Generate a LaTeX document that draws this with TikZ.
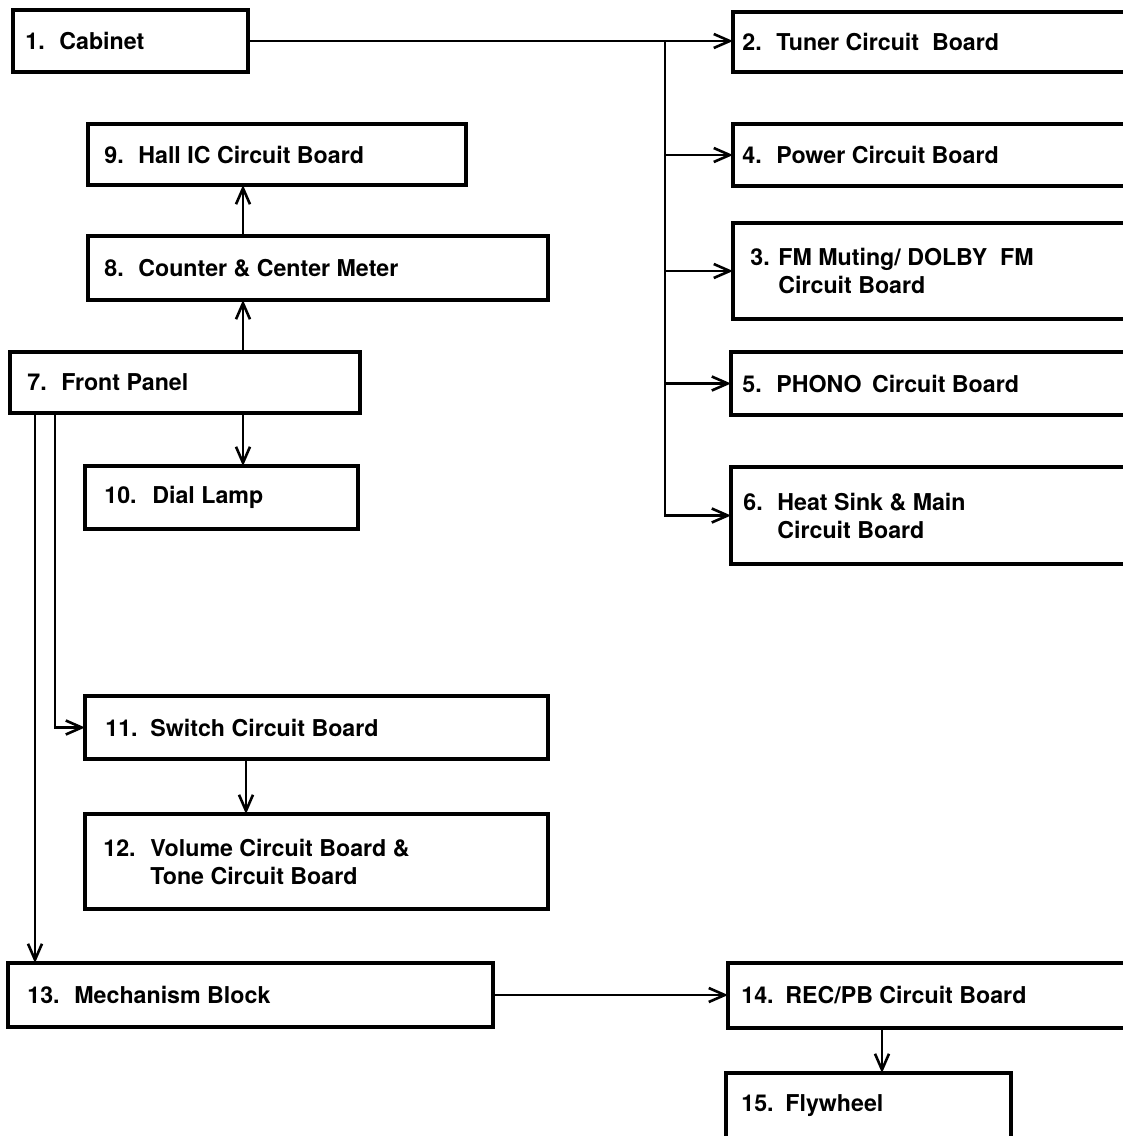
\documentclass[tikz,border=0pt]{standalone}
\usepackage{fontspec}
\setmainfont{TeX Gyre Heros}
\usetikzlibrary{arrows.meta,fit}

\newcommand{\bno}[2][17pt]{\makebox[#1][l]{#2}}

\tikzset{
  board/.style={draw, line width=1.8pt, inner sep=0pt, outer sep=0pt},
  lbl/.style={anchor=west, inner sep=0pt, align=left, xshift=#1,
    font=\bfseries\fontsize{11.6}{14}\selectfont},
  conn/.style={line width=1.2pt, -{Straight Barb[length=8pt,width=7pt,line width=1.3pt]}}
}

\begin{document}
\begin{tikzpicture}[x=0.5pt,y=0.5pt,yscale=-1,xscale=1]
    \useasboundingbox (0,0) rectangle (1123,1136);
    \clip (0,0) rectangle (1123,1136);

    %Box: Cabinet
    \node[board, fit={(13,10) (248,72)}, label={[lbl=6pt]west:{\bno{1.}Cabinet}}] (cab) {};
    %Box: right column
    \node[board, fit={(733,12) (1135,72)}, label={[lbl=4.5pt]west:{\bno{2.}Tuner Circuit\ \ Board}}] (b2) {};
    \node[board, fit={(733,124) (1135,186)}, label={[lbl=4.5pt]west:{\bno{4.}Power Circuit Board}}] (b4) {};
    \node[board, fit={(733,223) (1135,319)}, label={[lbl=8.5pt]west:{\bno[14pt]{3.}FM Muting/ DOLBY\ \ FM\\\bno[14pt]{}Circuit Board}}] (b3) {};
    \node[board, fit={(731,352) (1135,415)}, label={[lbl=5.5pt]west:{\bno{5.}PHONO\ \,Circuit Board}}] (b5) {};
    \node[board, fit={(731,467) (1135,564)}, label={[lbl=6pt]west:{\bno{6.}Heat Sink \& Main\\\bno{}Circuit Board}}] (b6) {};

    %Box: left column
    \node[board, fit={(88,124) (466,185)}, label={[lbl=8pt]west:{\bno{9.}Hall IC Circuit Board}}] (b9) {};
    \node[board, fit={(88,236) (548,300)}, label={[lbl=8pt]west:{\bno{8.}Counter \& Center Meter}}] (b8) {};
    \node[board, fit={(10,352) (360,413)}, label={[lbl=8.5pt]west:{\bno{7.}Front Panel}}] (b7) {};
    \node[board, fit={(85,466) (358,529)}, label={[lbl=9.5pt]west:{\bno[24pt]{10.}Dial Lamp}}] (b10) {};
    \node[board, fit={(85,696) (548,759)}, label={[lbl=10pt]west:{\bno[22.5pt]{11.}Switch Circuit Board}}] (b11) {};
    \node[board, fit={(85,814) (548,909)}, label={[lbl=9pt]west:{\bno[23.5pt]{12.}Volume Circuit Board \&\\\bno[23.5pt]{}Tone Circuit Board}}] (b12) {};

    %Box: bottom row
    \node[board, fit={(8,963) (493,1027)}, label={[lbl=9.5pt]west:{\bno[23.5pt]{13.}Mechanism Block}}] (b13) {};
    \node[board, fit={(728,963) (1135,1028)}, label={[lbl=6.5pt]west:{\bno[22pt]{14.}REC/PB Circuit Board}}] (b14) {};
    \node[board, fit={(726,1073) (1011,1139)}, label={[lbl=7.5pt]west:{\bno[22pt]{15.}Flywheel}}] (b15) {};

    % Bus lines
    \coordinate (bus) at (665,41);
    \coordinate (sp) at (243,0);
    \coordinate (dm) at (35,0);
    \coordinate (ds) at (55,0);
    \coordinate (dv) at (246,0);
    \coordinate (df) at (882,0);

    \draw[conn] (cab.east) -- (cab.east -| b2.west);
    \draw[conn] (bus) |- (b6.west);
    \draw[conn] (bus |- b4.west) -- (b4.west);
    \draw[conn] (bus |- b3.west) -- (b3.west);
    \draw[conn] (bus |- b5.west) -- (b5.west);

    \draw[conn] (sp |- b8.north) -- (sp |- b9.south);
    \draw[conn] (sp |- b7.north) -- (sp |- b8.south);
    \draw[conn] (sp |- b7.south) -- (sp |- b10.north);

    \draw[conn] (dm |- b7.south) -- (dm |- b13.north);
    \draw[conn] (ds |- b7.south) |- (b11.west);
    \draw[conn] (dv |- b11.south) -- (dv |- b12.north);

    \draw[conn] (b13.east) -- (b13.east -| b14.west);
    \draw[conn] (df |- b14.south) -- (df |- b15.north);

\end{tikzpicture}
\end{document}
